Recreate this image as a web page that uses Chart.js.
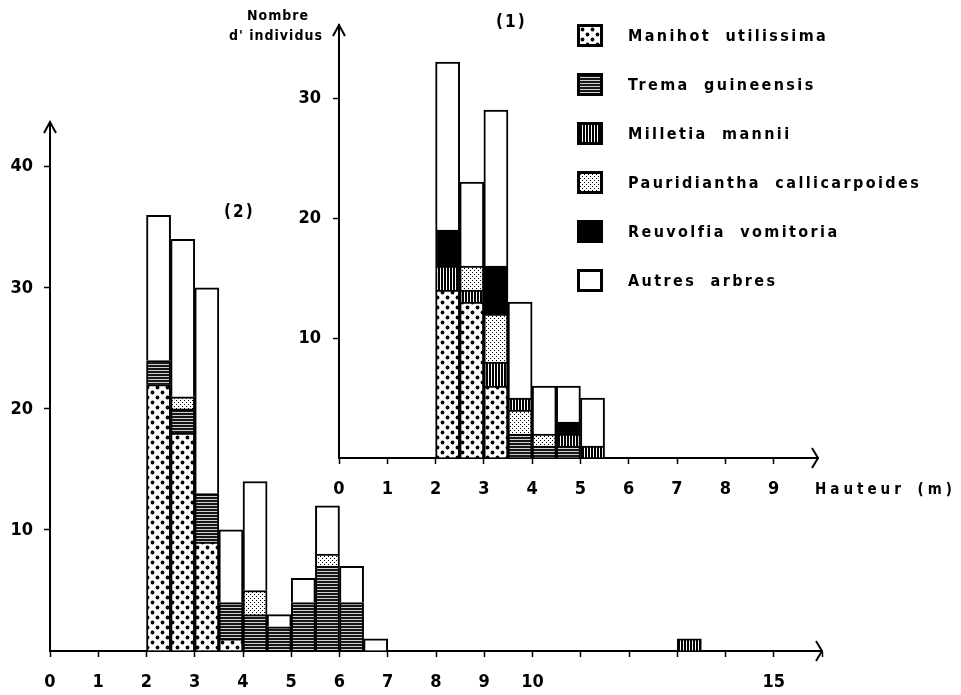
<!DOCTYPE html>
<html>
<head>
<meta charset="utf-8">
<script src="https://cdn.jsdelivr.net/npm/chart.js@4"></script>
<style>
  body { margin: 0; background: #fff; }
  #wrap { position: relative; width: 961px; height: 695px; overflow: hidden;
    font-family: 'Liberation Sans Narrow', 'DejaVu Sans Condensed', sans-serif; font-weight: bold; color: #000; }
  #wrap canvas { position: absolute; left: 0; top: 0; }
  .txt { position: absolute; white-space: nowrap; }
  #legende { position: absolute; left: 577px; top: 11px; }
  .ligne { display: flex; align-items: center; height: 49px; }
  .case { width: 20px; height: 17px; border: 3px solid #000; box-sizing: content-box; margin-right: 25px; }
  .nom { font-size: 16px; letter-spacing: 2.4px; word-spacing: 7px; }
</style>
</head>
<body>
<div id="wrap">
  <canvas id="c2" width="961" height="695"></canvas>
  <canvas id="c1" width="961" height="695"></canvas>
  <div class="txt" style="left:247px;top:7px;font-size:14px;letter-spacing:1px">Nombre</div>
  <div class="txt" style="left:229px;top:27px;font-size:14px;letter-spacing:1px">d' individus</div>
  <div class="txt" style="left:496px;top:11px;font-size:17px;letter-spacing:2px">(1)</div>
  <div class="txt" style="left:224px;top:201px;font-size:17px;letter-spacing:2px">(2)</div>
  <div class="txt" style="left:815px;top:480px;font-size:15px;letter-spacing:4px;word-spacing:4px">Hauteur (m)</div>
  <div id="legende"></div>
</div>
<script>
// Especes (ordre d'empilement, du bas vers le haut)
const speciesNames = ['Manihot utilissima', 'Trema guineensis', 'Milletia mannii',
  'Pauridiantha callicarpoides', 'Reuvolfia vomitoria', 'Autres arbres'];

const binWidth = 0.5;

// (1) classes de hauteur (debut de classe, m)
const bins1 = [2, 2.5, 3, 3.5, 4, 4.5, 5];
const manihot1 = [14, 13, 6, 0, 0, 0, 0];
const trema1 = [0, 0, 0, 2, 1, 1, 0];
const milletia1 = [2, 1, 2, 0, 0, 1, 1];
const pauridiantha1 = [0, 2, 4, 2, 1, 0, 0];
const milletiaHaut1 = [0, 0, 0, 1, 0, 0, 0]; // Milletia au-dessus de Pauridiantha (3.5-4 m)
const reuvolfia1 = [3, 0, 4, 0, 0, 1, 0];
const autres1 = [14, 7, 13, 8, 4, 3, 4];

// (2)
const bins2 = [2, 2.5, 3, 3.5, 4, 4.5, 5, 5.5, 6, 6.5, 13];
const manihot2 = [22, 18, 9, 1, 0, 0, 0, 0, 0, 0, 0];
const trema2 = [2, 2, 4, 3, 3, 2, 4, 7, 4, 0, 0];
const milletia2 = [0, 0, 0, 0, 0, 0, 0, 0, 0, 0, 1];
const pauridiantha2 = [0, 1, 0, 0, 2, 0, 0, 1, 0, 0, 0];
const reuvolfia2 = [0, 0, 0, 0, 0, 0, 0, 0, 0, 0, 0];
const autres2 = [12, 13, 17, 6, 9, 1, 2, 4, 3, 1, 0];

// axes
const xLabels1 = [0, 1, 2, 3, 4, 5, 6, 7, 8, 9];
const xLabels2 = [0, 1, 2, 3, 4, 5, 6, 7, 8, 9, 10, 15];
const yLabels1 = [10, 20, 30];
const yLabels2 = [10, 20, 30, 40];

// --- motifs (trames) ---
function makeTile(w, h, draw) {
  const c = document.createElement('canvas');
  c.width = w; c.height = h;
  const g = c.getContext('2d');
  g.fillStyle = '#fff';
  g.fillRect(0, 0, w, h);
  draw(g);
  return c;
}
function dot(g, x, y, r) { g.beginPath(); g.arc(x, y, r, 0, Math.PI * 2); g.fill(); }

const tiles = [
  makeTile(10, 10, g => { g.fillStyle = '#000'; dot(g, 2.5, 2.5, 1.9); dot(g, 7.5, 7.5, 1.9); }),
  makeTile(4, 3, g => { g.fillStyle = '#161616'; g.fillRect(0, 0, 4, 3); g.fillStyle = '#cfcfcf'; g.fillRect(0, 1, 4, 1); }),
  makeTile(3, 4, g => { g.fillStyle = '#000'; g.fillRect(0, 0, 2, 4); }),
  makeTile(4, 4, g => { g.fillStyle = '#000'; g.fillRect(0, 0, 1, 1); g.fillRect(2, 2, 1, 1); }),
  makeTile(4, 4, g => { g.fillStyle = '#000'; g.fillRect(0, 0, 4, 4); }),
  makeTile(4, 4, g => {})
];
const patCtx = document.createElement('canvas').getContext('2d');
const fills = tiles.map(t => patCtx.createPattern(t, 'repeat'));

// legende
const legende = document.getElementById('legende');
speciesNames.forEach((name, i) => {
  const row = document.createElement('div');
  row.className = 'ligne';
  const box = document.createElement('div');
  box.className = 'case';
  box.style.backgroundImage = 'url(' + tiles[i].toDataURL() + ')';
  const lab = document.createElement('div');
  lab.className = 'nom';
  lab.textContent = name;
  row.appendChild(box);
  row.appendChild(lab);
  legende.appendChild(row);
});

function ds(label, values, bins, fill) {
  return {
    label: label,
    data: bins.map((b, i) => ({ x: b + binWidth / 2, y: values[i] || null })),
    backgroundColor: fill,
    borderColor: '#000',
    borderWidth: 2,
    grouped: false,
    barPercentage: 1,
    categoryPercentage: 1
  };
}

const arrowPlugin = {
  id: 'fleches',
  afterDraw(chart) {
    const { ctx, chartArea: a } = chart;
    ctx.save();
    ctx.strokeStyle = '#000';
    ctx.lineWidth = 2;
    ctx.beginPath();
    ctx.moveTo(a.left - 6, a.top + 11);
    ctx.lineTo(a.left, a.top);
    ctx.lineTo(a.left + 6, a.top + 11);
    ctx.moveTo(a.right - 6, a.bottom - 10);
    ctx.lineTo(a.right, a.bottom);
    ctx.lineTo(a.right - 6, a.bottom + 10);
    ctx.stroke();
    ctx.restore();
  }
};

const tickFont = { family: "'Liberation Sans Narrow', 'DejaVu Sans Condensed', sans-serif", size: 18, weight: 'bold' };

function makeChart(id, datasets, pad, xMax, yMax, xLabels, yLabels, yPad) {
  return new Chart(document.getElementById(id), {
    type: 'bar',
    data: { datasets: datasets },
    options: {
      responsive: false,
      animation: false,
      events: [],
      layout: { padding: pad },
      plugins: { legend: { display: false }, tooltip: { enabled: false } },
      scales: {
        x: {
          type: 'linear', min: 0, max: xMax, offset: false,
          ticks: { stepSize: 1, autoSkip: false, includeBounds: false, maxRotation: 0, padding: 15, color: '#000', font: tickFont,
            callback: v => xLabels.includes(v) ? String(v) : '' },
          grid: { offset: false, drawOnChartArea: false, tickLength: 6, tickWidth: 1.5, color: '#000' },
          border: { color: '#000', width: 2 },
          afterFit: s => { s.height = 44; }
        },
        y: {
          stacked: true, min: 0, max: yMax,
          ticks: { stepSize: 10, includeBounds: false, padding: yPad, color: '#000', font: tickFont,
            callback: v => yLabels.includes(v) ? String(v) : '' },
          grid: { drawOnChartArea: false, tickLength: 6, tickWidth: 1.5,
            tickColor: c => (c.tick && c.tick.value === 0) ? 'rgba(0,0,0,0)' : '#000' },
          border: { color: '#000', width: 2 },
          afterFit: s => { s.width = 50; }
        }
      }
    },
    plugins: [arrowPlugin]
  });
}

makeChart('c2', [
  ds(speciesNames[0], manihot2, bins2, fills[0]),
  ds(speciesNames[1], trema2, bins2, fills[1]),
  ds(speciesNames[2], milletia2, bins2, fills[2]),
  ds(speciesNames[3], pauridiantha2, bins2, fills[3]),
  ds(speciesNames[4], reuvolfia2, bins2, fills[4]),
  ds(speciesNames[5], autres2, bins2, fills[5])
], { left: 0, right: 139, top: 122, bottom: 0 }, 16, 43.7, xLabels2, yLabels2, 11);

makeChart('c1', [
  ds(speciesNames[0], manihot1, bins1, fills[0]),
  ds(speciesNames[1], trema1, bins1, fills[1]),
  ds(speciesNames[2], milletia1, bins1, fills[2]),
  ds(speciesNames[3], pauridiantha1, bins1, fills[3]),
  ds(speciesNames[2], milletiaHaut1, bins1, fills[2]),
  ds(speciesNames[4], reuvolfia1, bins1, fills[4]),
  ds(speciesNames[5], autres1, bins1, fills[5])
], { left: 289, right: 143, top: 25, bottom: 193 }, 9.92, 36.1, xLabels1, yLabels1, 12);
</script>
</body>
</html>
